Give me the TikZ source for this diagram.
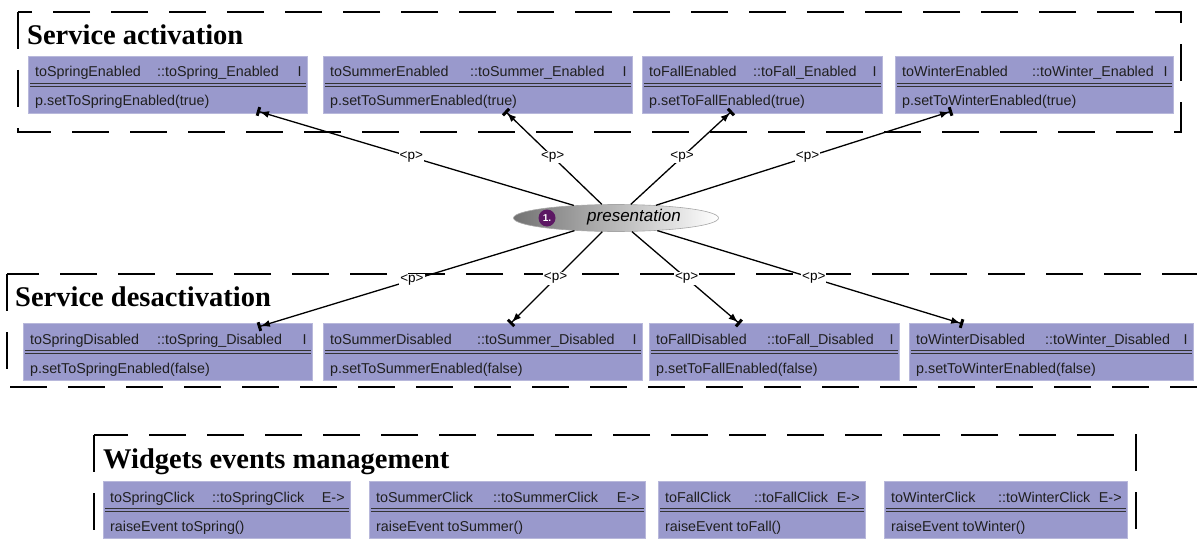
\documentclass[tikz,border=0pt]{standalone}
\usepackage{fontspec}
\setmainfont{Liberation Sans}
\newfontfamily\titlefont{Liberation Serif}
\usetikzlibrary{arrows.meta,calc,shapes.geometric}
\definecolor{boxfill}{HTML}{9999CC}
\definecolor{badge}{HTML}{5C1763}
\newcommand\ubox[9]{%
  \node[box, minimum width=#4-#2, minimum height=57, anchor=north west] (#1) at (#2,#3) {};
  \node[txt] (#1h) at ($(#1.north west)+(7,21)$) {#5};
  \node[txt] (#1m) at (#6,#3+21) {#7};
  \node[txt, anchor=base east] (#1r) at ($(#1.north east)+(-6,21)$) {#8};
  \draw[dl] ($(#1.north west)+(2,27.5)$) -- ($(#1.north east)+(-2,27.5)$);
  \draw[dl] ($(#1.north west)+(2,30.5)$) -- ($(#1.north east)+(-2,30.5)$);
  \node[txt] (#1b) at ($(#1.north west)+(7,50)$) {#9};
}
\begin{document}
\begin{tikzpicture}[x=1pt,y=-1pt,
  frame/.style={line width=2.6pt, dash pattern=on 37pt off 21pt},
  title/.style={font=\titlefont\bfseries\fontsize{28.5}{28.5}\selectfont, anchor=base west, inner sep=0},
  box/.style={fill=boxfill, draw=boxfill!70!white, line width=0.8pt, inner sep=0},
  txt/.style={font=\fontsize{14.3}{14.3}\selectfont, anchor=base west, inner sep=0, text=black!88},
  dl/.style={line width=1.1pt, draw=black!80},
  conn/.style={line width=1.3pt, -{Latex[length=9pt,width=7pt]Bar[width=9pt,line width=3pt]}},
  plabel/.style={font=\fontsize{13.5}{13.5}\selectfont, fill=white, inner sep=1pt},
]
\useasboundingbox (0,0) rectangle (1197,543);
\clip (0,0) rectangle (1197,543);

% frames
\draw[frame] (18,12) -- (18,132) -- (1181,132) -- (1181,12) -- cycle;
\draw[frame] (7,274) -- (7,387) -- (1215,387) -- (1215,274) -- cycle;
\draw[frame] (94,435) -- (94,570) -- (1136,570) -- (1136,435) -- cycle;

\node[title] (t1) at (27,45) {Service activation};
\node[title] (t2) at (15,306) {Service desactivation};
\node[title] (t3) at (103,468) {Widgets events management};

% activation boxes
\ubox{ae1}{28}{56}{307}{toSpringEnabled}{157}{::toSpring\_Enabled}{I}{p.setToSpringEnabled(true)}
\ubox{ae2}{323}{56}{632}{toSummerEnabled}{470}{::toSummer\_Enabled}{I}{p.setToSummerEnabled(true)}
\ubox{ae3}{642}{56}{882}{toFallEnabled}{753}{::toFall\_Enabled}{I}{p.setToFallEnabled(true)}
\ubox{ae4}{895}{56}{1173}{toWinterEnabled}{1032}{::toWinter\_Enabled}{I}{p.setToWinterEnabled(true)}

% deactivation boxes
\ubox{de1}{23}{323}{312}{toSpringDisabled}{157}{::toSpring\_Disabled}{I}{p.setToSpringEnabled(false)}
\ubox{de2}{323}{323}{642}{toSummerDisabled}{477}{::toSummer\_Disabled}{I}{p.setToSummerEnabled(false)}
\ubox{de3}{649}{323}{899}{toFallDisabled}{767}{::toFall\_Disabled}{I}{p.setToFallEnabled(false)}
\ubox{de4}{909}{323}{1193}{toWinterDisabled}{1045}{::toWinter\_Disabled}{I}{p.setToWinterEnabled(false)}

% widget boxes
\ubox{wc1}{103}{481}{350}{toSpringClick}{212}{::toSpringClick}{E->}{raiseEvent toSpring()}
\ubox{wc2}{369}{481}{645}{toSummerClick}{493}{::toSummerClick}{E->}{raiseEvent toSummer()}
\ubox{wc3}{658}{481}{865}{toFallClick}{754}{::toFallClick}{E->}{raiseEvent toFall()}
\ubox{wc4}{884}{481}{1127}{toWinterClick}{998}{::toWinterClick}{E->}{raiseEvent toWinter()}

% presentation
\node[ellipse, minimum width=205, minimum height=27, inner sep=0, left color=black!55, right color=white, draw=black!35, line width=0.6pt] (pres) at (616,218) {};
\node[circle, fill=badge, minimum size=17, inner sep=0, text=white, font=\bfseries\fontsize{10}{10}\selectfont] (n1) at (547,218) {1.};
\node[font=\itshape\fontsize{17}{17}\selectfont, inner sep=0] (ptxt) at (634,217) {presentation};

% targets
\coordinate (a1) at (257,111);
\coordinate (a2) at (505,111);
\coordinate (a3) at (732,111);
\coordinate (a4) at (952,111);
\coordinate (d1) at (258,327);
\coordinate (d2) at (510,324);
\coordinate (d3) at (740,324);
\coordinate (d4) at (963,324);

\foreach \t in {a1,a2,a3,a4,d1,d2,d3,d4}{
  \draw[conn] (pres) -- (\t);
}
\foreach \t in {a1,a2,a3,a4,d1,d2,d3,d4}{
  \node[plabel] (l\t) at ($(pres.center)!0.57!(\t)$) {<p>};
}
\end{tikzpicture}
\end{document}
